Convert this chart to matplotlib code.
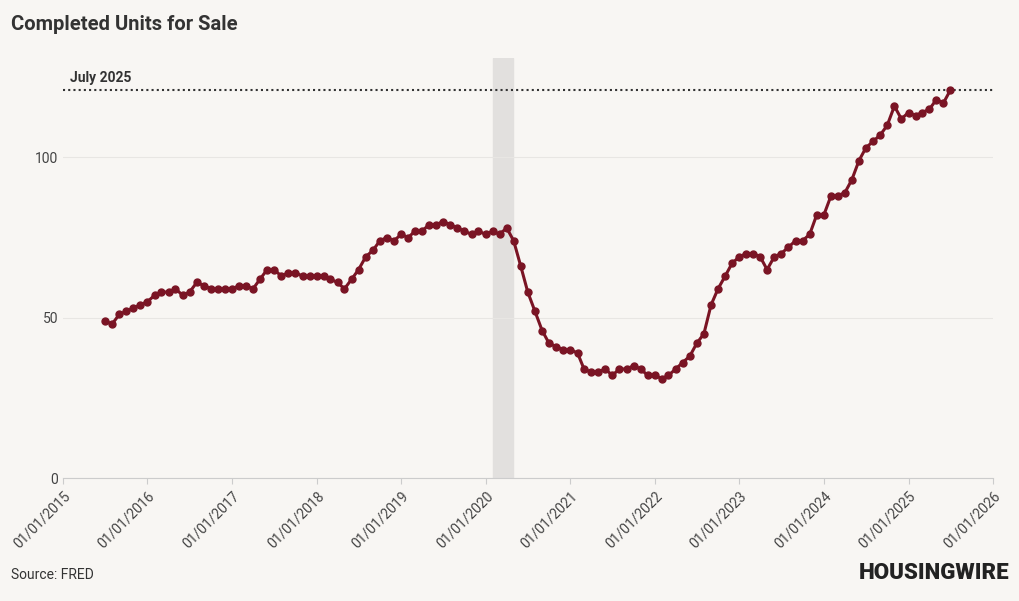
import matplotlib
matplotlib.use("Agg")
import matplotlib.pyplot as plt
import matplotlib.dates as mdates
import pandas as pd

start = "2015-07-01"
values = [49, 48, 51, 52, 53, 54,
          55, 57, 58, 58, 59, 57, 58, 61, 60, 59, 59, 59,
          59, 60, 60, 59, 62, 65, 65, 63, 64, 64, 63, 63,
          63, 63, 62, 61, 59, 62, 65, 69, 71, 74, 75, 74,
          76, 75, 77, 77, 79, 79, 80, 79, 78, 77, 76, 77,
          76, 77, 76, 78, 74, 66, 58, 52, 46, 42, 41, 40, 40,
          39, 34, 33, 33, 34, 32, 34, 34, 35, 34, 32, 32,
          31, 32, 34, 36, 38, 42, 45, 54, 59, 63, 67, 69,
          70, 70, 69, 65, 69, 70, 72, 74, 74, 76, 82, 82,
          88, 88, 89, 93, 99, 103, 105, 107, 110, 116, 112, 114,
          113, 114, 115, 118, 117, 121]
dates = pd.date_range(start, periods=len(values), freq="MS")
ref_value = 121
ref_label = "July 2025"
recession = ("2020-02-01", "2020-04-30")
yticks = [0, 50, 100]

bg = "#f8f6f3"
red = "#7a1424"
plt.rcParams["font.family"] = "Roboto"
fig = plt.figure(figsize=(10.2, 6.01), dpi=100, facecolor=bg)
ax = fig.add_axes([63/1020, 1-478/601, 930/1020, 420/601], facecolor=bg)
ax.axvspan(pd.Timestamp(recession[0]), pd.Timestamp(recession[1]), color="#e2e0de", zorder=0)
ax.plot(dates, values, color=red, lw=2.2, marker="o", ms=5, zorder=3)
ax.axhline(ref_value, color="#333333", ls=(0, (1, 1.5)), lw=1.5, zorder=2)
ax.text(pd.Timestamp("2015-02-01"), ref_value + 1.5, ref_label, fontsize=10, fontweight="bold", color="#333333", va="bottom")
ax.set_xlim(pd.Timestamp("2015-01-01"), pd.Timestamp("2026-01-01"))
ax.set_ylim(0, 131)
ax.set_yticks(yticks)
ax.grid(axis="y", color="#e8e6e3", lw=0.8)
ax.xaxis.set_major_locator(mdates.YearLocator())
ax.xaxis.set_major_formatter(mdates.DateFormatter("%m/%d/%Y"))
for lab in ax.get_xticklabels():
    lab.set_rotation(45); lab.set_ha("right"); lab.set_rotation_mode("anchor")
ax.tick_params(axis="both", colors="#444444", labelsize=10, length=0)
ax.tick_params(axis="x", length=4, color="#cccccc")
for s in ["top", "right", "left"]:
    ax.spines[s].set_visible(False)
ax.spines["bottom"].set_color("#cccccc")
fig.text(11/1020, 1-25/601, "Completed Units for Sale", fontsize=14.5, fontweight="bold", color="#333333", va="center")
fig.text(11/1020, 1-575/601, "Source: FRED", fontsize=10, color="#333333", va="center")
fig.text(1009/1020, 1-573/601, "HOUSINGWIRE", fontsize=16, fontweight="black", color="#222222", va="center", ha="right")
fig.savefig("out.png", dpi=100, facecolor=bg)
